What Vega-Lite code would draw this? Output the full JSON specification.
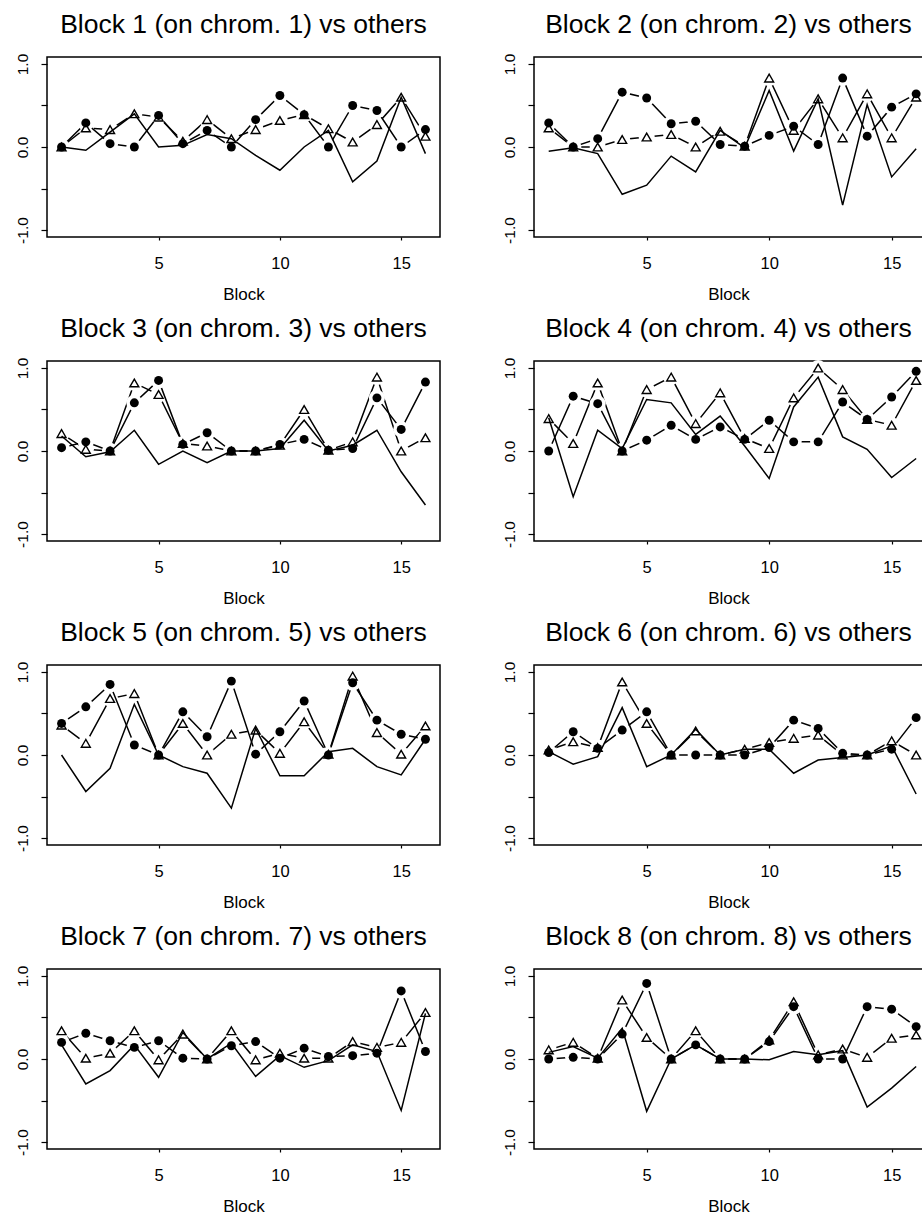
{
"$schema": "https://vega.github.io/schema/vega-lite/v6.json",
"padding": {"left": 14, "top": 10, "right": 0, "bottom": 0},
"background": "white",
"data": {"values": [
{"panel":1,"block":1,"solid":0.0,"tri":0.0,"circ":0.0},
{"panel":1,"block":2,"solid":-0.04,"tri":0.23,"circ":0.29},
{"panel":1,"block":3,"solid":0.18,"tri":0.21,"circ":0.04},
{"panel":1,"block":4,"solid":0.40,"tri":0.40,"circ":0.0},
{"panel":1,"block":5,"solid":0.0,"tri":0.36,"circ":0.38},
{"panel":1,"block":6,"solid":0.02,"tri":0.07,"circ":0.04},
{"panel":1,"block":7,"solid":0.15,"tri":0.33,"circ":0.20},
{"panel":1,"block":8,"solid":0.10,"tri":0.10,"circ":0.0},
{"panel":1,"block":9,"solid":-0.10,"tri":0.21,"circ":0.33},
{"panel":1,"block":10,"solid":-0.28,"tri":0.32,"circ":0.62},
{"panel":1,"block":11,"solid":0.0,"tri":0.39,"circ":0.39},
{"panel":1,"block":12,"solid":0.20,"tri":0.22,"circ":0.0},
{"panel":1,"block":13,"solid":-0.42,"tri":0.06,"circ":0.50},
{"panel":1,"block":14,"solid":-0.17,"tri":0.27,"circ":0.44},
{"panel":1,"block":15,"solid":0.60,"tri":0.60,"circ":0.0},
{"panel":1,"block":16,"solid":-0.08,"tri":0.13,"circ":0.21},
{"panel":2,"block":1,"solid":-0.05,"tri":0.23,"circ":0.29},
{"panel":2,"block":2,"solid":-0.01,"tri":0.0,"circ":0.0},
{"panel":2,"block":3,"solid":-0.08,"tri":0.0,"circ":0.10},
{"panel":2,"block":4,"solid":-0.57,"tri":0.09,"circ":0.66},
{"panel":2,"block":5,"solid":-0.46,"tri":0.12,"circ":0.59},
{"panel":2,"block":6,"solid":-0.11,"tri":0.15,"circ":0.28},
{"panel":2,"block":7,"solid":-0.30,"tri":0.0,"circ":0.31},
{"panel":2,"block":8,"solid":0.20,"tri":0.19,"circ":0.03},
{"panel":2,"block":9,"solid":-0.01,"tri":0.01,"circ":0.01},
{"panel":2,"block":10,"solid":0.68,"tri":0.83,"circ":0.14},
{"panel":2,"block":11,"solid":-0.05,"tri":0.20,"circ":0.25},
{"panel":2,"block":12,"solid":0.58,"tri":0.58,"circ":0.03},
{"panel":2,"block":13,"solid":-0.70,"tri":0.11,"circ":0.83},
{"panel":2,"block":14,"solid":0.51,"tri":0.64,"circ":0.13},
{"panel":2,"block":15,"solid":-0.36,"tri":0.11,"circ":0.48},
{"panel":2,"block":16,"solid":-0.02,"tri":0.60,"circ":0.64},
{"panel":3,"block":1,"solid":0.18,"tri":0.21,"circ":0.04},
{"panel":3,"block":2,"solid":-0.07,"tri":0.02,"circ":0.11},
{"panel":3,"block":3,"solid":-0.01,"tri":0.0,"circ":0.0},
{"panel":3,"block":4,"solid":0.25,"tri":0.82,"circ":0.58},
{"panel":3,"block":5,"solid":-0.16,"tri":0.68,"circ":0.85},
{"panel":3,"block":6,"solid":0.0,"tri":0.09,"circ":0.08},
{"panel":3,"block":7,"solid":-0.14,"tri":0.06,"circ":0.22},
{"panel":3,"block":8,"solid":0.0,"tri":0.0,"circ":0.0},
{"panel":3,"block":9,"solid":0.0,"tri":0.0,"circ":0.0},
{"panel":3,"block":10,"solid":0.03,"tri":0.07,"circ":0.08},
{"panel":3,"block":11,"solid":0.37,"tri":0.50,"circ":0.14},
{"panel":3,"block":12,"solid":0.0,"tri":0.01,"circ":0.01},
{"panel":3,"block":13,"solid":0.07,"tri":0.11,"circ":0.03},
{"panel":3,"block":14,"solid":0.25,"tri":0.89,"circ":0.64},
{"panel":3,"block":15,"solid":-0.25,"tri":0.0,"circ":0.26},
{"panel":3,"block":16,"solid":-0.65,"tri":0.16,"circ":0.83},
{"panel":4,"block":1,"solid":0.40,"tri":0.39,"circ":0.0},
{"panel":4,"block":2,"solid":-0.55,"tri":0.09,"circ":0.66},
{"panel":4,"block":3,"solid":0.25,"tri":0.82,"circ":0.57},
{"panel":4,"block":4,"solid":0.03,"tri":0.0,"circ":0.0},
{"panel":4,"block":5,"solid":0.62,"tri":0.74,"circ":0.13},
{"panel":4,"block":6,"solid":0.58,"tri":0.89,"circ":0.31},
{"panel":4,"block":7,"solid":0.20,"tri":0.33,"circ":0.14},
{"panel":4,"block":8,"solid":0.42,"tri":0.70,"circ":0.29},
{"panel":4,"block":9,"solid":0.06,"tri":0.15,"circ":0.14},
{"panel":4,"block":10,"solid":-0.33,"tri":0.03,"circ":0.37},
{"panel":4,"block":11,"solid":0.53,"tri":0.64,"circ":0.11},
{"panel":4,"block":12,"solid":0.89,"tri":1.0,"circ":0.11},
{"panel":4,"block":13,"solid":0.17,"tri":0.74,"circ":0.59},
{"panel":4,"block":14,"solid":0.02,"tri":0.38,"circ":0.38},
{"panel":4,"block":15,"solid":-0.32,"tri":0.31,"circ":0.65},
{"panel":4,"block":16,"solid":-0.09,"tri":0.85,"circ":0.96},
{"panel":5,"block":1,"solid":0.0,"tri":0.36,"circ":0.38},
{"panel":5,"block":2,"solid":-0.44,"tri":0.14,"circ":0.58},
{"panel":5,"block":3,"solid":-0.16,"tri":0.68,"circ":0.85},
{"panel":5,"block":4,"solid":0.61,"tri":0.74,"circ":0.12},
{"panel":5,"block":5,"solid":0.0,"tri":0.0,"circ":0.0},
{"panel":5,"block":6,"solid":-0.14,"tri":0.38,"circ":0.52},
{"panel":5,"block":7,"solid":-0.22,"tri":0.0,"circ":0.22},
{"panel":5,"block":8,"solid":-0.64,"tri":0.25,"circ":0.89},
{"panel":5,"block":9,"solid":0.32,"tri":0.30,"circ":0.01},
{"panel":5,"block":10,"solid":-0.25,"tri":0.02,"circ":0.28},
{"panel":5,"block":11,"solid":-0.25,"tri":0.40,"circ":0.65},
{"panel":5,"block":12,"solid":0.04,"tri":0.01,"circ":0.0},
{"panel":5,"block":13,"solid":0.08,"tri":0.95,"circ":0.87},
{"panel":5,"block":14,"solid":-0.14,"tri":0.27,"circ":0.42},
{"panel":5,"block":15,"solid":-0.24,"tri":0.01,"circ":0.25},
{"panel":5,"block":16,"solid":0.19,"tri":0.35,"circ":0.19},
{"panel":6,"block":1,"solid":0.04,"tri":0.06,"circ":0.03},
{"panel":6,"block":2,"solid":-0.11,"tri":0.16,"circ":0.28},
{"panel":6,"block":3,"solid":-0.02,"tri":0.09,"circ":0.08},
{"panel":6,"block":4,"solid":0.57,"tri":0.88,"circ":0.30},
{"panel":6,"block":5,"solid":-0.14,"tri":0.38,"circ":0.52},
{"panel":6,"block":6,"solid":0.0,"tri":0.0,"circ":0.0},
{"panel":6,"block":7,"solid":0.31,"tri":0.29,"circ":0.0},
{"panel":6,"block":8,"solid":0.0,"tri":0.0,"circ":0.0},
{"panel":6,"block":9,"solid":0.07,"tri":0.07,"circ":0.0},
{"panel":6,"block":10,"solid":0.07,"tri":0.15,"circ":0.09},
{"panel":6,"block":11,"solid":-0.22,"tri":0.20,"circ":0.42},
{"panel":6,"block":12,"solid":-0.06,"tri":0.24,"circ":0.32},
{"panel":6,"block":13,"solid":-0.03,"tri":0.0,"circ":0.02},
{"panel":6,"block":14,"solid":0.0,"tri":0.0,"circ":0.0},
{"panel":6,"block":15,"solid":0.11,"tri":0.17,"circ":0.07},
{"panel":6,"block":16,"solid":-0.47,"tri":0.0,"circ":0.45},
{"panel":7,"block":1,"solid":0.17,"tri":0.34,"circ":0.20},
{"panel":7,"block":2,"solid":-0.30,"tri":0.01,"circ":0.31},
{"panel":7,"block":3,"solid":-0.14,"tri":0.07,"circ":0.22},
{"panel":7,"block":4,"solid":0.17,"tri":0.34,"circ":0.14},
{"panel":7,"block":5,"solid":-0.22,"tri":-0.01,"circ":0.22},
{"panel":7,"block":6,"solid":0.32,"tri":0.30,"circ":0.01},
{"panel":7,"block":7,"solid":0.0,"tri":0.0,"circ":0.0},
{"panel":7,"block":8,"solid":0.19,"tri":0.34,"circ":0.16},
{"panel":7,"block":9,"solid":-0.21,"tri":-0.01,"circ":0.21},
{"panel":7,"block":10,"solid":0.04,"tri":0.07,"circ":0.01},
{"panel":7,"block":11,"solid":-0.10,"tri":0.01,"circ":0.13},
{"panel":7,"block":12,"solid":-0.02,"tri":0.01,"circ":0.03},
{"panel":7,"block":13,"solid":0.17,"tri":0.21,"circ":0.04},
{"panel":7,"block":14,"solid":0.09,"tri":0.14,"circ":0.07},
{"panel":7,"block":15,"solid":-0.62,"tri":0.20,"circ":0.82},
{"panel":7,"block":16,"solid":0.55,"tri":0.56,"circ":0.09},
{"panel":8,"block":1,"solid":0.08,"tri":0.11,"circ":0.0},
{"panel":8,"block":2,"solid":0.15,"tri":0.20,"circ":0.02},
{"panel":8,"block":3,"solid":0.01,"tri":0.01,"circ":0.0},
{"panel":8,"block":4,"solid":0.37,"tri":0.71,"circ":0.30},
{"panel":8,"block":5,"solid":-0.63,"tri":0.26,"circ":0.91},
{"panel":8,"block":6,"solid":0.0,"tri":0.0,"circ":0.0},
{"panel":8,"block":7,"solid":0.17,"tri":0.34,"circ":0.17},
{"panel":8,"block":8,"solid":0.0,"tri":0.0,"circ":0.0},
{"panel":8,"block":9,"solid":0.0,"tri":0.0,"circ":0.0},
{"panel":8,"block":10,"solid":-0.01,"tri":0.23,"circ":0.21},
{"panel":8,"block":11,"solid":0.09,"tri":0.69,"circ":0.63},
{"panel":8,"block":12,"solid":0.05,"tri":0.05,"circ":0.0},
{"panel":8,"block":13,"solid":0.10,"tri":0.12,"circ":0.0},
{"panel":8,"block":14,"solid":-0.58,"tri":0.02,"circ":0.63},
{"panel":8,"block":15,"solid":-0.35,"tri":0.25,"circ":0.60},
{"panel":8,"block":16,"solid":-0.09,"tri":0.29,"circ":0.39}
]},
"columns": 2,
"spacing": {"row": 124, "column": 94},
"bounds": "flush",
"concat": [
{"title": "Block 1 (on chrom. 1) vs others", "width": 393, "height": 180,
 "transform": [{"filter": "datum.panel == 1"}],
 "encoding": {"x": {"field": "block", "type": "quantitative", "title": "Block", "scale": {"domain": [0.4, 16.6], "nice": false, "zero": false}, "axis": {"values": [5, 10, 15]}}},
 "layer": [
  {"mark": {"type": "line", "color": "black", "strokeWidth": 1.5}, "encoding": {"y": {"field": "tri", "type": "quantitative", "title": null, "scale": {"domain": [-1.084, 1.084], "nice": false, "zero": false}, "axis": {"values": [-1, -0.5, 0, 0.5, 1], "labelExpr": "datum.value == 1 ? '1.0' : datum.value == 0 ? '0.0' : datum.value == -1 ? '-1.0' : ''"}}}},
  {"mark": {"type": "point", "shape": "circle", "filled": true, "color": "white", "opacity": 1, "size": 260}, "encoding": {"y": {"field": "tri", "type": "quantitative", "title": null}}},
  {"mark": {"type": "line", "color": "black", "strokeWidth": 1.5}, "encoding": {"y": {"field": "circ", "type": "quantitative", "title": null}}},
  {"mark": {"type": "point", "shape": "circle", "filled": true, "color": "white", "opacity": 1, "size": 260}, "encoding": {"y": {"field": "circ", "type": "quantitative", "title": null}}},
  {"mark": {"type": "line", "color": "black", "strokeWidth": 1.5}, "encoding": {"y": {"field": "solid", "type": "quantitative", "title": null}}},
  {"mark": {"type": "point", "shape": "triangle-up", "filled": false, "color": "black", "strokeWidth": 1.4, "size": 80, "opacity": 1}, "encoding": {"y": {"field": "tri", "type": "quantitative", "title": null}}},
  {"mark": {"type": "point", "shape": "circle", "filled": true, "color": "black", "size": 80, "opacity": 1}, "encoding": {"y": {"field": "circ", "type": "quantitative", "title": null}}}
 ]},
{"title": "Block 2 (on chrom. 2) vs others", "width": 389, "height": 180,
 "transform": [{"filter": "datum.panel == 2"}],
 "encoding": {"x": {"field": "block", "type": "quantitative", "title": "Block", "scale": {"domain": [0.4, 16.28], "nice": false, "zero": false}, "axis": {"values": [5, 10, 15]}}},
 "layer": [
  {"mark": {"type": "line", "color": "black", "strokeWidth": 1.5}, "encoding": {"y": {"field": "tri", "type": "quantitative", "title": null, "scale": {"domain": [-1.084, 1.084], "nice": false, "zero": false}, "axis": {"values": [-1, -0.5, 0, 0.5, 1], "labelExpr": "datum.value == 1 ? '1.0' : datum.value == 0 ? '0.0' : datum.value == -1 ? '-1.0' : ''"}}}},
  {"mark": {"type": "point", "shape": "circle", "filled": true, "color": "white", "opacity": 1, "size": 260}, "encoding": {"y": {"field": "tri", "type": "quantitative", "title": null}}},
  {"mark": {"type": "line", "color": "black", "strokeWidth": 1.5}, "encoding": {"y": {"field": "circ", "type": "quantitative", "title": null}}},
  {"mark": {"type": "point", "shape": "circle", "filled": true, "color": "white", "opacity": 1, "size": 260}, "encoding": {"y": {"field": "circ", "type": "quantitative", "title": null}}},
  {"mark": {"type": "line", "color": "black", "strokeWidth": 1.5}, "encoding": {"y": {"field": "solid", "type": "quantitative", "title": null}}},
  {"mark": {"type": "point", "shape": "triangle-up", "filled": false, "color": "black", "strokeWidth": 1.4, "size": 80, "opacity": 1}, "encoding": {"y": {"field": "tri", "type": "quantitative", "title": null}}},
  {"mark": {"type": "point", "shape": "circle", "filled": true, "color": "black", "size": 80, "opacity": 1}, "encoding": {"y": {"field": "circ", "type": "quantitative", "title": null}}}
 ]},
{"title": "Block 3 (on chrom. 3) vs others", "width": 393, "height": 180,
 "transform": [{"filter": "datum.panel == 3"}],
 "encoding": {"x": {"field": "block", "type": "quantitative", "title": "Block", "scale": {"domain": [0.4, 16.6], "nice": false, "zero": false}, "axis": {"values": [5, 10, 15]}}},
 "layer": [
  {"mark": {"type": "line", "color": "black", "strokeWidth": 1.5}, "encoding": {"y": {"field": "tri", "type": "quantitative", "title": null, "scale": {"domain": [-1.084, 1.084], "nice": false, "zero": false}, "axis": {"values": [-1, -0.5, 0, 0.5, 1], "labelExpr": "datum.value == 1 ? '1.0' : datum.value == 0 ? '0.0' : datum.value == -1 ? '-1.0' : ''"}}}},
  {"mark": {"type": "point", "shape": "circle", "filled": true, "color": "white", "opacity": 1, "size": 260}, "encoding": {"y": {"field": "tri", "type": "quantitative", "title": null}}},
  {"mark": {"type": "line", "color": "black", "strokeWidth": 1.5}, "encoding": {"y": {"field": "circ", "type": "quantitative", "title": null}}},
  {"mark": {"type": "point", "shape": "circle", "filled": true, "color": "white", "opacity": 1, "size": 260}, "encoding": {"y": {"field": "circ", "type": "quantitative", "title": null}}},
  {"mark": {"type": "line", "color": "black", "strokeWidth": 1.5}, "encoding": {"y": {"field": "solid", "type": "quantitative", "title": null}}},
  {"mark": {"type": "point", "shape": "triangle-up", "filled": false, "color": "black", "strokeWidth": 1.4, "size": 80, "opacity": 1}, "encoding": {"y": {"field": "tri", "type": "quantitative", "title": null}}},
  {"mark": {"type": "point", "shape": "circle", "filled": true, "color": "black", "size": 80, "opacity": 1}, "encoding": {"y": {"field": "circ", "type": "quantitative", "title": null}}}
 ]},
{"title": "Block 4 (on chrom. 4) vs others", "width": 389, "height": 180,
 "transform": [{"filter": "datum.panel == 4"}],
 "encoding": {"x": {"field": "block", "type": "quantitative", "title": "Block", "scale": {"domain": [0.4, 16.28], "nice": false, "zero": false}, "axis": {"values": [5, 10, 15]}}},
 "layer": [
  {"mark": {"type": "line", "color": "black", "strokeWidth": 1.5}, "encoding": {"y": {"field": "tri", "type": "quantitative", "title": null, "scale": {"domain": [-1.084, 1.084], "nice": false, "zero": false}, "axis": {"values": [-1, -0.5, 0, 0.5, 1], "labelExpr": "datum.value == 1 ? '1.0' : datum.value == 0 ? '0.0' : datum.value == -1 ? '-1.0' : ''"}}}},
  {"mark": {"type": "point", "shape": "circle", "filled": true, "color": "white", "opacity": 1, "size": 260}, "encoding": {"y": {"field": "tri", "type": "quantitative", "title": null}}},
  {"mark": {"type": "line", "color": "black", "strokeWidth": 1.5}, "encoding": {"y": {"field": "circ", "type": "quantitative", "title": null}}},
  {"mark": {"type": "point", "shape": "circle", "filled": true, "color": "white", "opacity": 1, "size": 260}, "encoding": {"y": {"field": "circ", "type": "quantitative", "title": null}}},
  {"mark": {"type": "line", "color": "black", "strokeWidth": 1.5}, "encoding": {"y": {"field": "solid", "type": "quantitative", "title": null}}},
  {"mark": {"type": "point", "shape": "triangle-up", "filled": false, "color": "black", "strokeWidth": 1.4, "size": 80, "opacity": 1}, "encoding": {"y": {"field": "tri", "type": "quantitative", "title": null}}},
  {"mark": {"type": "point", "shape": "circle", "filled": true, "color": "black", "size": 80, "opacity": 1}, "encoding": {"y": {"field": "circ", "type": "quantitative", "title": null}}}
 ]},
{"title": "Block 5 (on chrom. 5) vs others", "width": 393, "height": 180,
 "transform": [{"filter": "datum.panel == 5"}],
 "encoding": {"x": {"field": "block", "type": "quantitative", "title": "Block", "scale": {"domain": [0.4, 16.6], "nice": false, "zero": false}, "axis": {"values": [5, 10, 15]}}},
 "layer": [
  {"mark": {"type": "line", "color": "black", "strokeWidth": 1.5}, "encoding": {"y": {"field": "tri", "type": "quantitative", "title": null, "scale": {"domain": [-1.084, 1.084], "nice": false, "zero": false}, "axis": {"values": [-1, -0.5, 0, 0.5, 1], "labelExpr": "datum.value == 1 ? '1.0' : datum.value == 0 ? '0.0' : datum.value == -1 ? '-1.0' : ''"}}}},
  {"mark": {"type": "point", "shape": "circle", "filled": true, "color": "white", "opacity": 1, "size": 260}, "encoding": {"y": {"field": "tri", "type": "quantitative", "title": null}}},
  {"mark": {"type": "line", "color": "black", "strokeWidth": 1.5}, "encoding": {"y": {"field": "circ", "type": "quantitative", "title": null}}},
  {"mark": {"type": "point", "shape": "circle", "filled": true, "color": "white", "opacity": 1, "size": 260}, "encoding": {"y": {"field": "circ", "type": "quantitative", "title": null}}},
  {"mark": {"type": "line", "color": "black", "strokeWidth": 1.5}, "encoding": {"y": {"field": "solid", "type": "quantitative", "title": null}}},
  {"mark": {"type": "point", "shape": "triangle-up", "filled": false, "color": "black", "strokeWidth": 1.4, "size": 80, "opacity": 1}, "encoding": {"y": {"field": "tri", "type": "quantitative", "title": null}}},
  {"mark": {"type": "point", "shape": "circle", "filled": true, "color": "black", "size": 80, "opacity": 1}, "encoding": {"y": {"field": "circ", "type": "quantitative", "title": null}}}
 ]},
{"title": "Block 6 (on chrom. 6) vs others", "width": 389, "height": 180,
 "transform": [{"filter": "datum.panel == 6"}],
 "encoding": {"x": {"field": "block", "type": "quantitative", "title": "Block", "scale": {"domain": [0.4, 16.28], "nice": false, "zero": false}, "axis": {"values": [5, 10, 15]}}},
 "layer": [
  {"mark": {"type": "line", "color": "black", "strokeWidth": 1.5}, "encoding": {"y": {"field": "tri", "type": "quantitative", "title": null, "scale": {"domain": [-1.084, 1.084], "nice": false, "zero": false}, "axis": {"values": [-1, -0.5, 0, 0.5, 1], "labelExpr": "datum.value == 1 ? '1.0' : datum.value == 0 ? '0.0' : datum.value == -1 ? '-1.0' : ''"}}}},
  {"mark": {"type": "point", "shape": "circle", "filled": true, "color": "white", "opacity": 1, "size": 260}, "encoding": {"y": {"field": "tri", "type": "quantitative", "title": null}}},
  {"mark": {"type": "line", "color": "black", "strokeWidth": 1.5}, "encoding": {"y": {"field": "circ", "type": "quantitative", "title": null}}},
  {"mark": {"type": "point", "shape": "circle", "filled": true, "color": "white", "opacity": 1, "size": 260}, "encoding": {"y": {"field": "circ", "type": "quantitative", "title": null}}},
  {"mark": {"type": "line", "color": "black", "strokeWidth": 1.5}, "encoding": {"y": {"field": "solid", "type": "quantitative", "title": null}}},
  {"mark": {"type": "point", "shape": "triangle-up", "filled": false, "color": "black", "strokeWidth": 1.4, "size": 80, "opacity": 1}, "encoding": {"y": {"field": "tri", "type": "quantitative", "title": null}}},
  {"mark": {"type": "point", "shape": "circle", "filled": true, "color": "black", "size": 80, "opacity": 1}, "encoding": {"y": {"field": "circ", "type": "quantitative", "title": null}}}
 ]},
{"title": "Block 7 (on chrom. 7) vs others", "width": 393, "height": 180,
 "transform": [{"filter": "datum.panel == 7"}],
 "encoding": {"x": {"field": "block", "type": "quantitative", "title": "Block", "scale": {"domain": [0.4, 16.6], "nice": false, "zero": false}, "axis": {"values": [5, 10, 15]}}},
 "layer": [
  {"mark": {"type": "line", "color": "black", "strokeWidth": 1.5}, "encoding": {"y": {"field": "tri", "type": "quantitative", "title": null, "scale": {"domain": [-1.084, 1.084], "nice": false, "zero": false}, "axis": {"values": [-1, -0.5, 0, 0.5, 1], "labelExpr": "datum.value == 1 ? '1.0' : datum.value == 0 ? '0.0' : datum.value == -1 ? '-1.0' : ''"}}}},
  {"mark": {"type": "point", "shape": "circle", "filled": true, "color": "white", "opacity": 1, "size": 260}, "encoding": {"y": {"field": "tri", "type": "quantitative", "title": null}}},
  {"mark": {"type": "line", "color": "black", "strokeWidth": 1.5}, "encoding": {"y": {"field": "circ", "type": "quantitative", "title": null}}},
  {"mark": {"type": "point", "shape": "circle", "filled": true, "color": "white", "opacity": 1, "size": 260}, "encoding": {"y": {"field": "circ", "type": "quantitative", "title": null}}},
  {"mark": {"type": "line", "color": "black", "strokeWidth": 1.5}, "encoding": {"y": {"field": "solid", "type": "quantitative", "title": null}}},
  {"mark": {"type": "point", "shape": "triangle-up", "filled": false, "color": "black", "strokeWidth": 1.4, "size": 80, "opacity": 1}, "encoding": {"y": {"field": "tri", "type": "quantitative", "title": null}}},
  {"mark": {"type": "point", "shape": "circle", "filled": true, "color": "black", "size": 80, "opacity": 1}, "encoding": {"y": {"field": "circ", "type": "quantitative", "title": null}}}
 ]},
{"title": "Block 8 (on chrom. 8) vs others", "width": 389, "height": 180,
 "transform": [{"filter": "datum.panel == 8"}],
 "encoding": {"x": {"field": "block", "type": "quantitative", "title": "Block", "scale": {"domain": [0.4, 16.28], "nice": false, "zero": false}, "axis": {"values": [5, 10, 15]}}},
 "layer": [
  {"mark": {"type": "line", "color": "black", "strokeWidth": 1.5}, "encoding": {"y": {"field": "tri", "type": "quantitative", "title": null, "scale": {"domain": [-1.084, 1.084], "nice": false, "zero": false}, "axis": {"values": [-1, -0.5, 0, 0.5, 1], "labelExpr": "datum.value == 1 ? '1.0' : datum.value == 0 ? '0.0' : datum.value == -1 ? '-1.0' : ''"}}}},
  {"mark": {"type": "point", "shape": "circle", "filled": true, "color": "white", "opacity": 1, "size": 260}, "encoding": {"y": {"field": "tri", "type": "quantitative", "title": null}}},
  {"mark": {"type": "line", "color": "black", "strokeWidth": 1.5}, "encoding": {"y": {"field": "circ", "type": "quantitative", "title": null}}},
  {"mark": {"type": "point", "shape": "circle", "filled": true, "color": "white", "opacity": 1, "size": 260}, "encoding": {"y": {"field": "circ", "type": "quantitative", "title": null}}},
  {"mark": {"type": "line", "color": "black", "strokeWidth": 1.5}, "encoding": {"y": {"field": "solid", "type": "quantitative", "title": null}}},
  {"mark": {"type": "point", "shape": "triangle-up", "filled": false, "color": "black", "strokeWidth": 1.4, "size": 80, "opacity": 1}, "encoding": {"y": {"field": "tri", "type": "quantitative", "title": null}}},
  {"mark": {"type": "point", "shape": "circle", "filled": true, "color": "black", "size": 80, "opacity": 1}, "encoding": {"y": {"field": "circ", "type": "quantitative", "title": null}}}
 ]}
],
"config": {
 "font": "Liberation Sans",
 "view": {"stroke": "black", "strokeWidth": 1.5},
 "title": {"fontSize": 26.5, "fontWeight": "normal", "color": "black", "anchor": "middle", "frame": "group", "baseline": "alphabetic", "offset": 15, "font": "Liberation Sans"},
 "axis": {"grid": false, "domain": false, "tickColor": "black", "tickWidth": 1.2, "labelColor": "black", "titleColor": "black", "labelFont": "Liberation Sans", "titleFont": "Liberation Sans", "titleFontWeight": "normal", "labelFlush": false, "labelOverlap": false},
 "axisX": {"tickSize": 3, "labelFontSize": 16.5, "labelPadding": 15, "titleFontSize": 17, "titleY": 62, "titleBaseline": "alphabetic"},
 "axisY": {"tickSize": 6, "labelFontSize": 15.5, "labelPadding": 14, "labelAngle": -90, "labelAlign": "center", "labelBaseline": "alphabetic"}
}
}
